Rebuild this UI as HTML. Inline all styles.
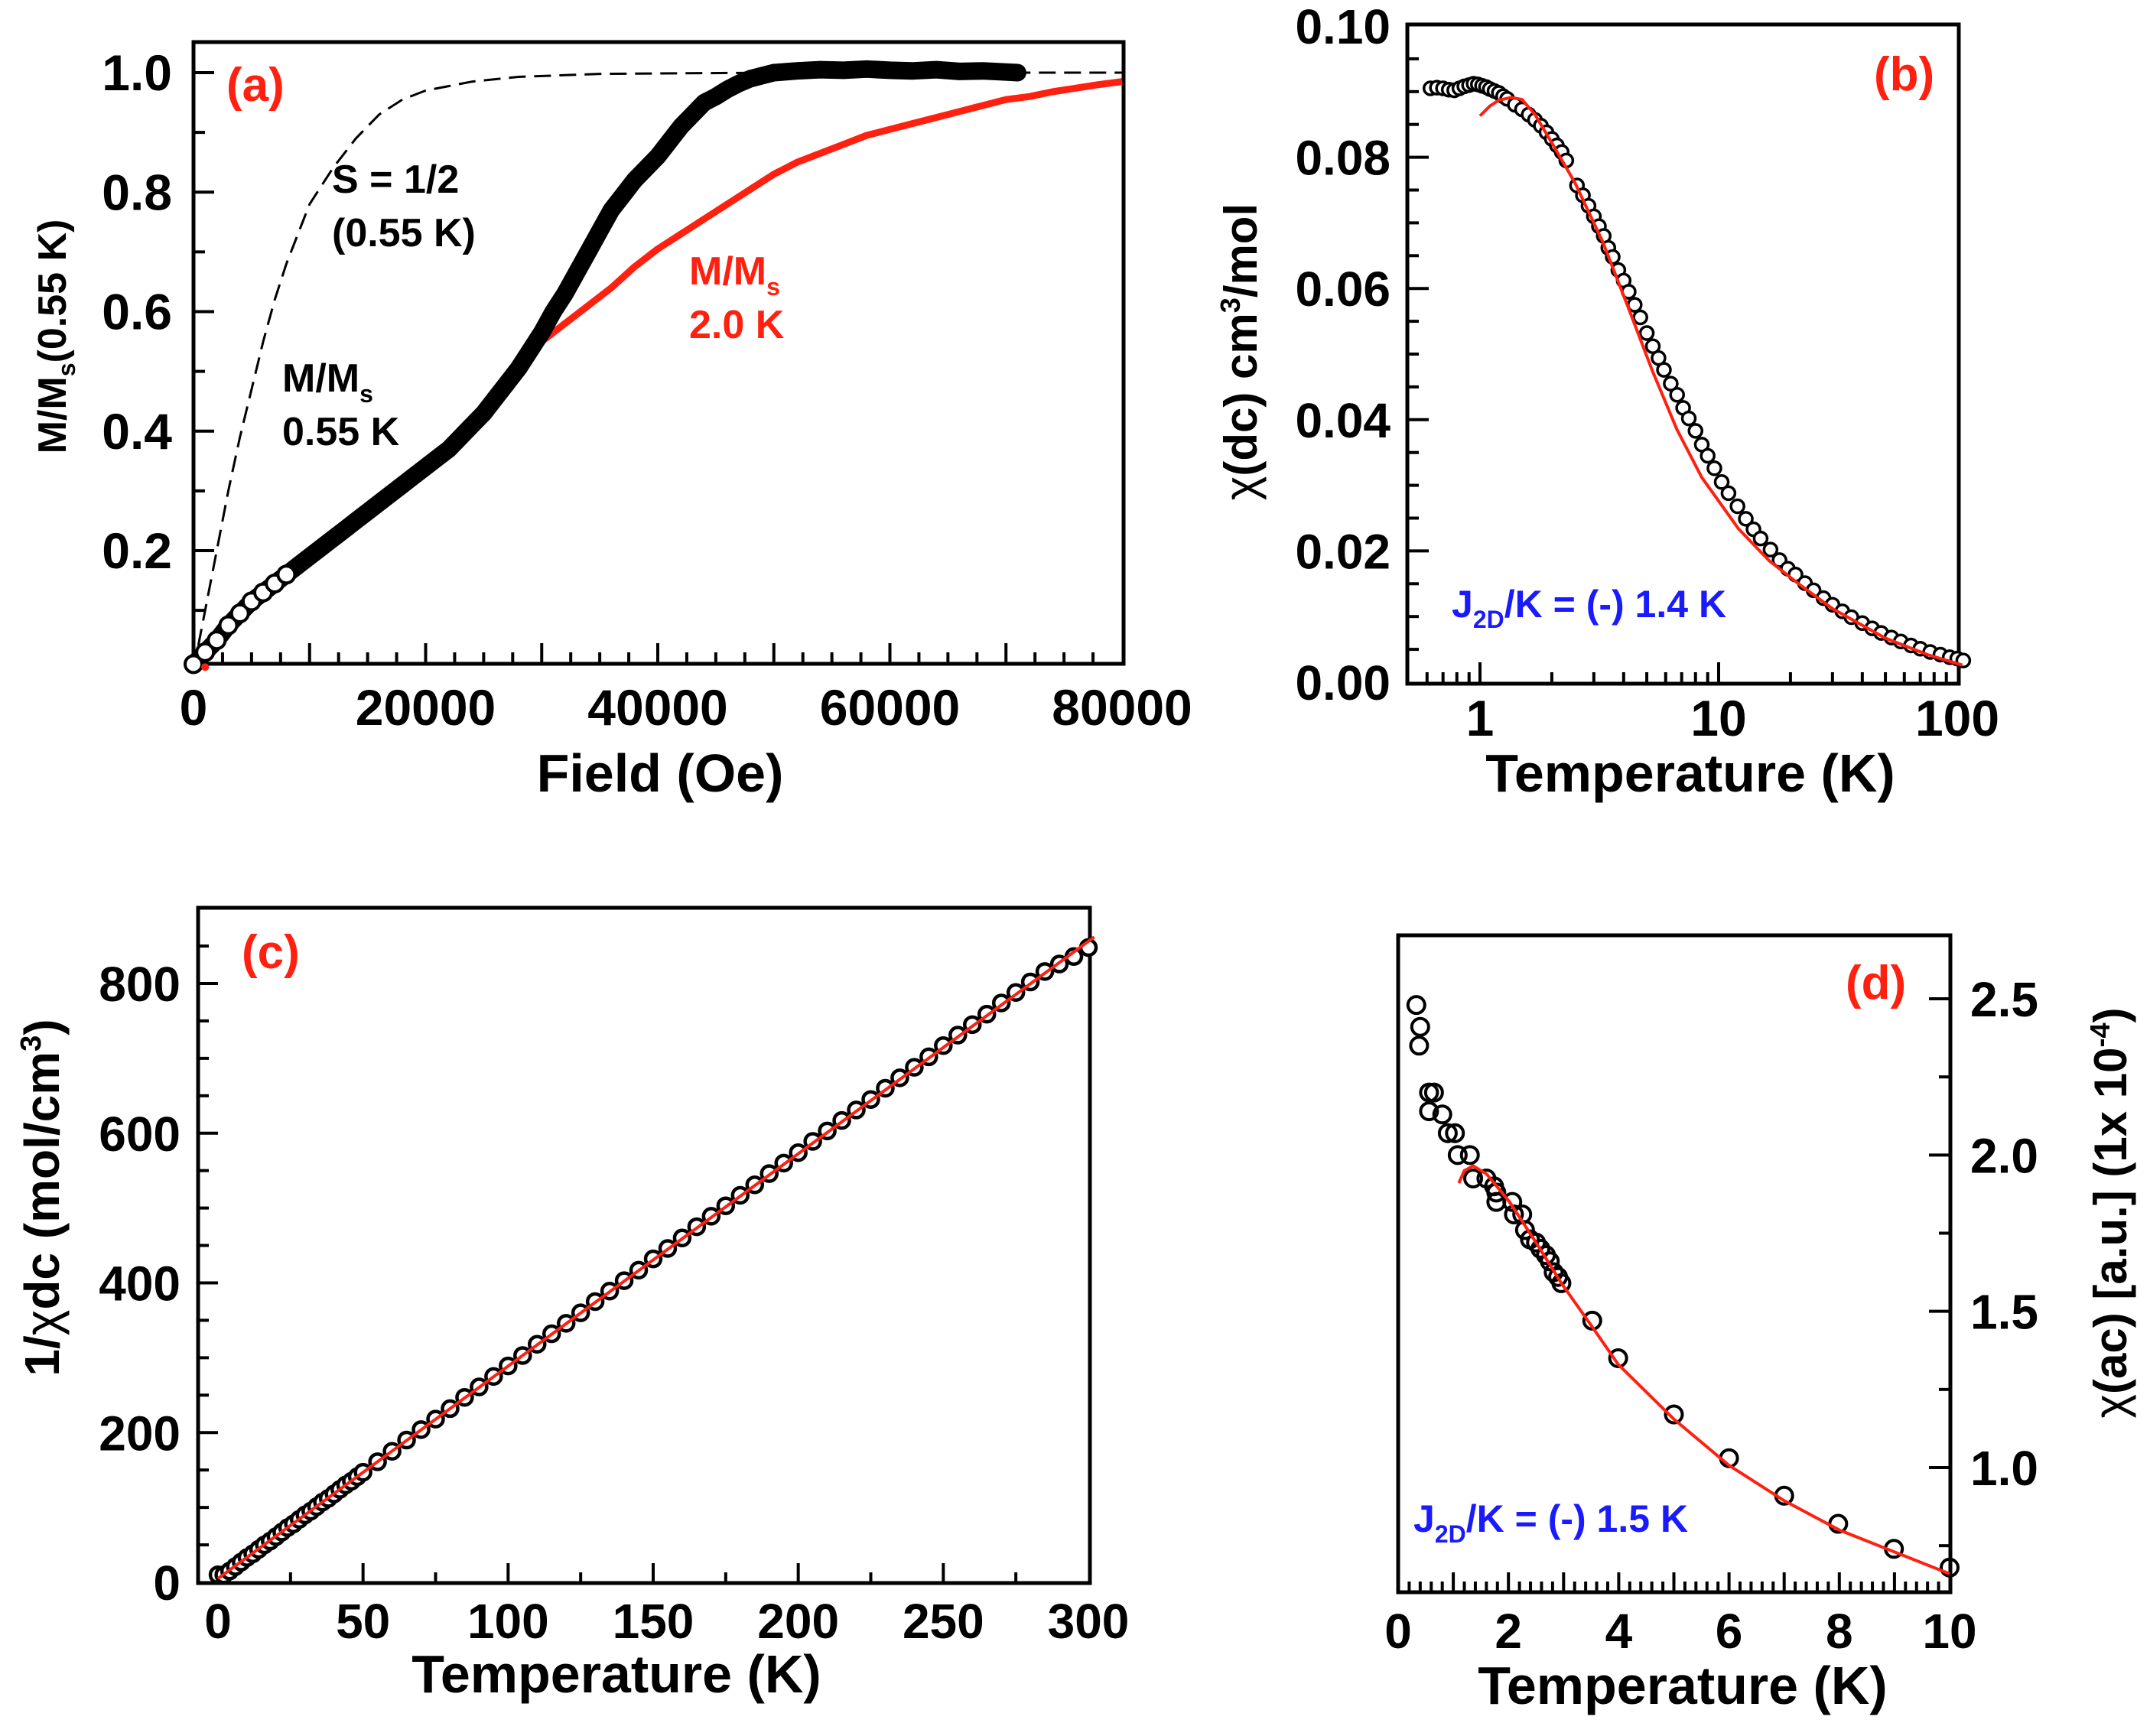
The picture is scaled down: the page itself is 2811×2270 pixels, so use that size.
<!DOCTYPE html>
<html><head><meta charset="utf-8">
<style>
html,body{margin:0;padding:0;background:#fff;}
svg{display:block;}
text{font-family:"Liberation Sans",sans-serif;font-weight:bold;}
</style></head>
<body>
<svg id="fig" xmlns="http://www.w3.org/2000/svg" width="2811" height="2270" viewBox="0 0 2811 2270">
<rect x="0" y="0" width="2811" height="2270" fill="#fff"/>
</svg>
<script>
// ---------- Panel (a) data ----------
const aField = [0,1000,2000,3000,4000,5000,6000,7000,8000,9000,10000,11000,12000,13000,14000,15000,16000,17000,18000,19000,20000,21000,22000,23000,24000,25000,26000,27000,28000,29000,30000,31000,32000,33000,34000,35000,36000,37000,38000,39000,40000,41000,42000,43000,44000,45000,46000,47000,48000,49000,50000,52000,54000,56000,58000,60000,62000,64000,66000,68000,70000,71000];
const aM055 = [0.01,0.03,0.05,0.075,0.095,0.115,0.13,0.145,0.16,0.175,0.19,0.205,0.22,0.235,0.25,0.265,0.28,0.295,0.31,0.325,0.34,0.355,0.37,0.39,0.41,0.43,0.455,0.48,0.505,0.535,0.565,0.6,0.63,0.665,0.70,0.735,0.77,0.795,0.82,0.84,0.86,0.885,0.91,0.93,0.95,0.96,0.972,0.982,0.99,0.995,1.0,1.003,1.005,1.004,1.006,1.004,1.003,1.005,1.002,1.003,1.001,1.0];
const aRedField = [27000,28000,30000,32000,34000,36000,38000,40000,42000,44000,46000,48000,50000,52000,54000,56000,58000,60000,62000,64000,66000,68000,70000,72000,74000,76000,78000,80000];
const aM20 = [0.49,0.505,0.55,0.58,0.61,0.64,0.675,0.705,0.73,0.755,0.78,0.805,0.83,0.85,0.865,0.88,0.895,0.905,0.915,0.925,0.935,0.945,0.955,0.96,0.968,0.974,0.98,0.985];
const aBrField = [0,1000,2000,3000,4000,5000,6000,7000,8000,9000,10000,12000,14000,16000,18000,20000,24000,28000,35000,50000,80000];
const aBrM = [0,0.1,0.2,0.3,0.39,0.47,0.55,0.62,0.68,0.73,0.78,0.84,0.89,0.93,0.955,0.97,0.985,0.993,0.998,1,1];
const aXTicks = [0,20000,40000,60000,80000];
const aYTicks = [0.2,0.4,0.6,0.8,1.0];
const aYLabels = ["0.2","0.4","0.6","0.8","1.0"];

// ---------- Panel (b) data ----------
const bT = [0.62,0.66,0.7,0.74,0.78,0.82,0.86,0.9,0.94,0.98,1.02,1.06,1.1,1.15,1.2,1.25,1.3,1.4,1.5,1.6,1.7,1.8,1.9,2.0,2.1,2.2,2.3,2.55,2.7,2.85,3.0,3.15,3.3,3.45,3.6,3.8,4.0,4.2,4.45,4.7,5.0,5.3,5.6,5.9,6.3,6.7,7.1,7.5,8.0,8.5,9.0,9.6,10.3,11,12,13,14,15,16.5,18,19.5,21,23,25,27.5,30,33,36,40,44,48,53,58,64,70,77,85,93,100,106];
const bChi = [0.0905,0.0906,0.0905,0.0903,0.0902,0.0905,0.0908,0.091,0.0912,0.0911,0.0909,0.0907,0.0904,0.0901,0.0898,0.0893,0.0889,0.088,0.0873,0.0865,0.0857,0.0848,0.0838,0.0828,0.0818,0.0808,0.0795,0.0757,0.0742,0.0726,0.071,0.0695,0.068,0.0662,0.0648,0.0628,0.0612,0.0595,0.0575,0.0556,0.0532,0.0512,0.0494,0.0476,0.0455,0.0438,0.0418,0.0402,0.0383,0.0362,0.0345,0.0326,0.0305,0.0288,0.0268,0.0249,0.0233,0.0219,0.0202,0.0186,0.0173,0.0164,0.0151,0.014,0.0128,0.0118,0.0108,0.0099,0.009,0.0082,0.0075,0.0068,0.0062,0.0056,0.0051,0.0046,0.0042,0.0038,0.0036,0.0033];
const bFitT = [1.0,1.1,1.2,1.35,1.5,1.7,2.0,2.5,3.27,4.16,5.27,6.69,8.5,12.1,16.3,21.8,30,50,75,105];
const bFitChi = [0.0863,0.0878,0.0887,0.0891,0.0888,0.0865,0.0822,0.0761,0.0671,0.0573,0.0475,0.0385,0.0312,0.0234,0.0185,0.0149,0.0112,0.0067,0.0042,0.0026];
const bYTicks = [0,0.02,0.04,0.06,0.08,0.10];
const bYLabels = ["0.00","0.02","0.04","0.06","0.08","0.10"];
const bXTicks = [1,10,100];
const bXLabels = ["1","10","100"];

// ---------- Panel (c) data ----------
const cT = [0,2,4,6,8,10,12,14,16,18,20,22,24,26,28,30,32,34,36,38,40,42,44,46,48,50,55,60,65,70,75,80,85,90,95,100,105,110,115,120,125,130,135,140,145,150,155,160,165,170,175,180,185,190,195,200,205,210,215,220,225,230,235,240,245,250,255,260,265,270,275,280,285,290,295,300];
const cInv = [10,10,15,21,27,33,38,44,50,55,61,67,73,78,84,90,95,101,107,112,118,124,130,135,141,147,161,175,190,204,218,232,247,261,275,289,303,318,332,346,360,375,389,403,417,432,446,460,475,489,503,517,531,546,560,574,589,603,617,631,645,660,674,688,702,717,731,745,759,774,788,802,816,826,836,848];
const cFitT = [0,302];
const cFitInv = [5,862];
const cXTicks = [0,50,100,150,200,250,300];
const cYTicks = [0,200,400,600,800];

// ---------- Panel (d) data ----------
const dT = [0.33,0.4,0.38,0.56,0.65,0.56,0.8,0.9,1.03,1.08,1.3,1.36,1.6,1.74,1.78,1.78,2.07,2.1,2.25,2.3,2.39,2.5,2.58,2.68,2.75,2.82,2.9,2.96,3.52,3.99,5.0,6.0,7.0,7.98,8.99,10.0];
const dChi = [2.48,2.41,2.35,2.2,2.2,2.14,2.13,2.07,2.07,2.0,2.0,1.925,1.925,1.9,1.88,1.85,1.85,1.81,1.81,1.76,1.73,1.72,1.70,1.68,1.66,1.625,1.61,1.59,1.47,1.35,1.17,1.03,0.91,0.82,0.74,0.68];
const dFitT = [1.1,1.2,1.36,1.6,2.02,2.5,2.96,3.52,3.99,5.0,6.0,7.0,8.0,9.0,10.0];
const dFitChi = [1.91,1.95,1.965,1.94,1.85,1.72,1.59,1.45,1.33,1.155,1.007,0.894,0.80,0.73,0.66];
const dXTicks = [0,2,4,6,8,10];
const dYTicks = [1.0,1.5,2.0,2.5];
const dYLabels = ["1.0","1.5","2.0","2.5"];

const NS = "http://www.w3.org/2000/svg";
const svg = document.getElementById('fig');
function mk(tag, attrs, parent){
  const e = document.createElementNS(NS, tag);
  for (const k in attrs) e.setAttribute(k, attrs[k]);
  (parent||svg).appendChild(e);
  return e;
}
function lin(d0,d1,p0,p1){ return v => p0 + (v-d0)*(p1-p0)/(d1-d0); }
function logs(d0,d1,p0,p1){ return v => p0 + (Math.log10(v)-Math.log10(d0))*(p1-p0)/(Math.log10(d1)-Math.log10(d0)); }
function pathOf(xs,ys,sx,sy){ return xs.map((v,i)=>(i?'L':'M')+sx(v).toFixed(1)+','+sy(ys[i]).toFixed(1)).join(''); }
function txt(s, x, y, size, anchor, fill, parent){
  const t = mk('text',{x:x,y:y,'font-size':size,'text-anchor':anchor||'middle',fill:fill||'#000'}, parent);
  t.textContent = s; return t;
}

// ================= Panel (a) =================
const gA = mk('g',{});


const ax = lin(0,80000,253,1467), ay = lin(0.2,1.0,720,95);
const frameA = mk('rect',{x:253,y:55,width:1216,height:813,fill:'none',stroke:'#000','stroke-width':5},gA);


for(let f=2500; f<80000; f+=2500){
  const major = f%10000===0;
  const tk = mk('line',{x1:ax(f),x2:ax(f),y1:868,y2:868-(major?27:15),stroke:'#000','stroke-width':4},gA);
  
  
}
for(let m=0.1; m<1.05; m+=0.1){
  const major = Math.round(m*10)%2===0;
  const tk = mk('line',{x1:253,x2:253+(major?27:15),y1:ay(m),y2:ay(m),stroke:'#000','stroke-width':4},gA);
  
  
}
aXTicks.forEach(v=>{ const t=txt(String(v), ax(v), 948, 66,'middle','#000',gA);
  
   });
aYTicks.forEach((v,i)=>{ const t=txt(aYLabels[i], 225, ay(v)+23, 66,'end','#000',gA);
  
   });
const brill = mk('path',{d:pathOf(aBrField,aBrM,ax,ay),fill:'none',stroke:'#000','stroke-width':3,'stroke-dasharray':'22 11'},gA);


const redA = mk('path',{d:pathOf(aRedField,aM20,ax,ay),fill:'none',stroke:'#ff2010','stroke-width':9,'stroke-linejoin':'round'},gA);


const bandA = mk('path',{d:pathOf(aField,aM055,ax,ay),fill:'none',stroke:'#000','stroke-width':23,'stroke-linejoin':'round','stroke-linecap':'round'},gA);


aField.forEach((f,i)=>{ if(f<=8000){ const c=mk('circle',{cx:ax(f),cy:ay(aM055[i]),r:11,fill:'#fff',stroke:'#000','stroke-width':4},gA);
  
   }});
mk('circle',{cx:ax(1000),cy:ay(0.005),r:5,fill:'#ff2010'},gA);
const la=txt('(a)',296,132,62,'start','#ff2010',gA);


const s1=txt('S = 1/2',434,252,52,'start','#000',gA);


txt('(0.55 K)',434,322,52,'start','#000',gA);
const m1=mk('text',{x:369,y:512,'font-size':52,fill:'#000'},gA);
m1.innerHTML='M/M<tspan font-size="32" dy="14">s</tspan>';


txt('0.55 K',369,582,52,'start','#000',gA);
const m2=mk('text',{x:901,y:372,'font-size':52,fill:'#ff2010'},gA);
m2.innerHTML='M/M<tspan font-size="32" dy="14">s</tspan>';


txt('2.0 K',901,442,52,'start','#ff2010',gA);
const xtA=txt('Field (Oe)',863,1035,70,'middle','#000',gA);


const ytA=mk('text',{x:0,y:0,'font-size':52,'text-anchor':'middle',transform:'translate(86,440) rotate(-90)',fill:'#000'},gA);
ytA.innerHTML='M/M<tspan font-size="32" dy="12">s</tspan><tspan dy="-12">(0.55 K)</tspan>';



// ================= Panel (b) =================
const gB = mk('g',{});


const bx = logs(1,100,1935,2559), by = lin(0,0.10,892,34);
const frameB = mk('rect',{x:1840,y:32,width:721,height:862,fill:'none',stroke:'#000','stroke-width':5},gB);


[0.6,0.7,0.8,0.9,1,2,3,4,5,6,7,8,9,10,20,30,40,50,60,70,80,90].forEach(v=>{
  const major=(v===1||v===10);
  const tk=mk('line',{x1:bx(v),x2:bx(v),y1:894,y2:894-(major?28:15),stroke:'#000','stroke-width':4},gB);
  
  
});
for(let i=1;i<20;i++){
  const v=i*0.005, major=i%4===0;
  const tk=mk('line',{x1:1840,x2:1840+(major?28:15),y1:by(v),y2:by(v),stroke:'#000','stroke-width':4},gB);
  
  
}
bYTicks.forEach((v,i)=>{ const t=txt(bYLabels[i],1818,by(v)+23,64,'end','#000',gB);
  
   });
bXTicks.forEach((v,i)=>{ const t=txt(bXLabels[i],bx(v),962,66,'middle','#000',gB);
  
   });
bT.forEach((t,i)=>{ const c=mk('circle',{cx:bx(t),cy:by(bChi[i]),r:8.5,fill:'#fff',stroke:'#000','stroke-width':3.5},gB);
  
   });
const fitB=mk('path',{d:pathOf(bFitT,bFitChi,bx,by),fill:'none',stroke:'#ff2010','stroke-width':4},gB);


const lb=txt('(b)',2450,118,62,'start','#ff2010',gB);


const jb=mk('text',{x:1898,y:807,'font-size':50,fill:'#1a1aff'},gB);
jb.innerHTML='J<tspan font-size="32" dy="14">2D</tspan><tspan dy="-14">/K = (-) 1.4 K</tspan>';


const xtB=txt('Temperature (K)',2210,1035,70,'middle','#000',gB);


const ytB=mk('text',{x:0,y:0,'font-size':60,'text-anchor':'middle',transform:'translate(1643,460) rotate(-90)',fill:'#000'},gB);
ytB.innerHTML='<tspan font-weight="normal">χ</tspan>(dc) cm<tspan font-size="36" dy="-22">3</tspan><tspan dy="22">/mol</tspan>';



// ================= Panel (c) =================
const gC = mk('g',{});


const cx = lin(0,300,285,1423), cy = lin(0,800,2069,1286);
const frameC = mk('rect',{x:259,y:1187,width:1166,height:883,fill:'none',stroke:'#000','stroke-width':5},gC);


for(let v=25; v<300; v+=25){
  const major=v%50===0;
  const tk=mk('line',{x1:cx(v),x2:cx(v),y1:2070,y2:2070-(major?26:14),stroke:'#000','stroke-width':4},gC);
  
  
}
for(let v=50; v<=850; v+=50){
  const major=v%200===0;
  const tk=mk('line',{x1:259,x2:259+(major?26:14),y1:cy(v),y2:cy(v),stroke:'#000','stroke-width':4},gC);
  
  
}
cXTicks.forEach(v=>{ const t=txt(String(v),cx(v),2142,64,'middle','#000',gC);
  
   });
cYTicks.forEach(v=>{ const t=txt(String(v),236,cy(v)+23,64,'end','#000',gC);
  
   });
cT.forEach((t,i)=>{ const c=mk('circle',{cx:cx(t),cy:cy(cInv[i]),r:10,fill:'#fff',stroke:'#000','stroke-width':4.5},gC);
  
   });
const fitC=mk('path',{d:pathOf(cFitT,cFitInv,cx,cy),fill:'none',stroke:'#ff2010','stroke-width':4},gC);


const lc=txt('(c)',316,1266,62,'start','#ff2010',gC);


const xtC=txt('Temperature (K)',806,2213,70,'middle','#000',gC);


const ytC=mk('text',{x:0,y:0,'font-size':64,'text-anchor':'middle',transform:'translate(77,1566) rotate(-90)',fill:'#000'},gC);
ytC.innerHTML='1/<tspan font-weight="normal">χ</tspan>dc (mol/cm<tspan font-size="38" dy="-24">3</tspan><tspan dy="24">)</tspan>';



// ================= Panel (d) =================
const gD = mk('g',{});


const dx = lin(0,10,1828,2549), dy = lin(1.0,2.5,1919,1306);
const frameD = mk('rect',{x:1828,y:1223,width:722,height:859,fill:'none',stroke:'#000','stroke-width':5},gD);


for(let i=1;i<50;i++){
  const v=i*0.2, major=i%5===0;
  const tk=mk('line',{x1:dx(v),x2:dx(v),y1:2082,y2:2082-(major?26:14),stroke:'#000','stroke-width':4},gD);
  
  
}
for(let i=3;i<=10;i++){
  const v=i*0.25, major=i%2===0;
  const tk=mk('line',{x1:2550,x2:2550-(major?28:15),y1:dy(v),y2:dy(v),stroke:'#000','stroke-width':4},gD);
  
  
}
dXTicks.forEach(v=>{ const t=txt(String(v),dx(v),2155,64,'middle','#000',gD);
  
   });
dYTicks.forEach((v,i)=>{ const t=txt(dYLabels[i],2576,dy(v)+23,64,'start','#000',gD);
  
   });
dT.forEach((t,i)=>{ const c=mk('circle',{cx:dx(t),cy:dy(dChi[i]),r:11,fill:'none',stroke:'#000','stroke-width':4},gD);
  
   });
const fitD=mk('path',{d:pathOf(dFitT,dFitChi,dx,dy),fill:'none',stroke:'#ff2010','stroke-width':4},gD);


const ld=txt('(d)',2413,1306,62,'start','#ff2010',gD);


const jd=mk('text',{x:1848,y:2003,'font-size':50,fill:'#1a1aff'},gD);
jd.innerHTML='J<tspan font-size="32" dy="14">2D</tspan><tspan dy="-14">/K = (-) 1.5 K</tspan>';


const xtD=txt('Temperature (K)',2200,2228,70,'middle','#000',gD);


const ytD=mk('text',{x:0,y:0,'font-size':60,'text-anchor':'middle',transform:'translate(2780,1586) rotate(-90)',fill:'#000'},gD);
ytD.innerHTML='<tspan font-weight="normal">χ</tspan>(ac) [a.u.] (1x 10<tspan font-size="36" dy="-22">-4</tspan><tspan dy="22">)</tspan>';


</script>
</body></html>
